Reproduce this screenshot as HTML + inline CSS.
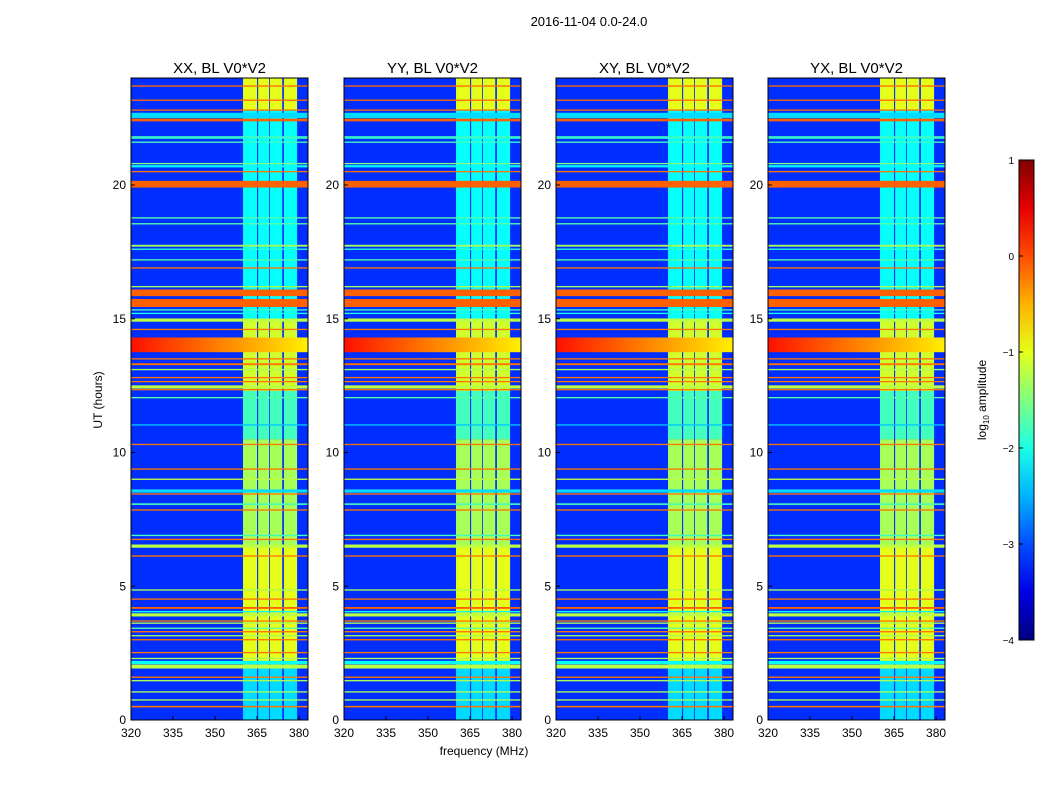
<!DOCTYPE html>
<html><head><meta charset="utf-8"><style>
body{margin:0;background:#fff;}
svg text{font-family:"Liberation Sans",sans-serif;fill:#000;}
</style></head><body>
<svg id="fig" width="1050" height="800" xmlns="http://www.w3.org/2000/svg">
<rect width="1050" height="800" fill="#fff"/>
<text x="589" y="26" font-size="13" text-anchor="middle">2016-11-04 0.0-24.0</text>
<text x="484" y="755" font-size="12" text-anchor="middle">frequency (MHz)</text>
<text transform="translate(102,400) rotate(-90)" font-size="12" text-anchor="middle">UT (hours)</text>
<g id="panels"></g>
<g id="cbar"></g>
<text transform="translate(986,400) rotate(-90)" font-size="12" text-anchor="middle">log<tspan font-size="8" dy="3">10</tspan><tspan dy="-3"> amplitude</tspan></text>
</svg>
<script>
const panelTitles=["XX, BL V0*V2","YY, BL V0*V2","XY, BL V0*V2","YX, BL V0*V2"];
const panelLefts=[131,344,556,768];
const xTicks=[320,335,350,365,380];
const yTicks=[0,5,10,15,20];
const cbarTicks=[1,0,-1,-2,-3,-4];
const backgroundLevel=-3.15;
// vertical bands (MHz)
const bandStarts=[360.0,365.4,369.6,374.6];
const bandEnds=[365.0,369.3,374.0,379.3];
// band time segments: start hour, end hour, log amplitude
const segStart=[0,2.2,6.5,10.5,12.3,15.0,22.8];
const segEnd=[2.2,6.5,10.5,12.3,15.0,22.8,24];
const segLevel=[-2.3,-1.0,-1.3,-1.8,-1.1,-2.1,-1.0];
// horizontal RFI lines: hour, width (hours), log amplitude
const rfiHour=[23.7,23.17,22.8,22.6,22.43,21.8,21.75,21.6,20.8,20.7,20.5,20.03,18.77,18.55,17.73,17.6,17.2,16.9,16.2,15.97,15.59,15.33,15.2,14.95,14.6,13.5,13.3,13.1,12.8,12.65,12.45,12.35,12.05,11.03,10.3,9.38,9.0,8.56,8.45,8.07,7.85,6.9,6.75,6.5,6.13,4.86,4.52,4.19,4.05,3.93,3.7,3.62,3.43,3.3,3.15,3.0,2.52,2.3,2.15,2.0,1.6,1.47,1.05,0.75,0.5];
const rfiWidth=[0.05,0.05,0.05,0.2,0.1,0.05,0.04,0.05,0.05,0.08,0.05,0.25,0.05,0.05,0.07,0.05,0.05,0.05,0.05,0.25,0.3,0.05,0.05,0.12,0.05,0.05,0.07,0.05,0.05,0.05,0.12,0.05,0.05,0.05,0.05,0.05,0.05,0.12,0.05,0.06,0.05,0.05,0.05,0.12,0.05,0.05,0.05,0.07,0.05,0.12,0.05,0.05,0.05,0.05,0.05,0.05,0.05,0.05,0.12,0.15,0.05,0.05,0.05,0.05,0.06];
const rfiLevel=[-0.15,-0.15,-0.15,-2.3,-0.1,-1.8,-1.9,-1.8,-1.5,-2.1,-0.2,-0.1,-1.7,-1.7,-1.3,-1.9,-1.7,-0.2,-1.3,-0.1,-0.1,-1.8,-2.0,-1.2,-0.2,-0.2,-0.2,-1.3,-0.2,-0.2,-1.2,-0.2,-1.7,-2.4,-0.2,-0.2,-1.2,-2.3,-0.2,-1.8,-0.2,-1.8,-0.2,-1.2,-0.2,-1.3,-0.2,-0.1,-2.1,-1.2,-0.2,-1.3,-1.7,-0.2,-1.3,-0.2,-0.2,-1.3,-2.1,-1.2,-0.2,-1.3,-1.3,-1.3,-0.2];
// broad red feature near 14h: start hour, end hour, left level, right level
const redBand=[13.75,14.3,0.3,-0.8];

function jet(v){let t=(v+4)/5;t=Math.max(0,Math.min(1,t));
 const c=x=>Math.max(0,Math.min(1,x));
 const r=c(1.5-Math.abs(4*t-3)),g=c(1.5-Math.abs(4*t-2)),b=c(1.5-Math.abs(4*t-1));
 return `rgb(${Math.round(r*255)},${Math.round(g*255)},${Math.round(b*255)})`;}
const NS="http://www.w3.org/2000/svg";
function mk(tag,attrs,parent){const e=document.createElementNS(NS,tag);for(const k in attrs)e.setAttribute(k,attrs[k]);parent.appendChild(e);return e;}
const fMin=320,fMax=383.2,hMin=0,hMax=24,yTop=78,yBottom=720,pw=177;
const yPix=h=>yBottom-(h-hMin)/(hMax-hMin)*(yBottom-yTop);
const panelsG=document.getElementById('panels');
panelTitles.forEach((title,pi)=>{
 const L=panelLefts[pi];const xPix=f=>L+(f-fMin)/(fMax-fMin)*pw;
 const g=mk('g',{},panelsG);
 
 
 const cp=mk('clipPath',{id:'cp'+pi},g);mk('rect',{x:L,y:yTop,width:pw,height:yBottom-yTop},cp);
 const hg=mk('g',{'clip-path':'url(#cp'+pi+')'},g);
 mk('rect',{x:L,y:yTop,width:pw,height:yBottom-yTop,fill:jet(backgroundLevel)},hg);
 bandStarts.forEach((fs,bi)=>{segStart.forEach((hs,si)=>{
  const r=mk('rect',{x:xPix(fs),y:yPix(segEnd[si]),width:xPix(bandEnds[bi])-xPix(fs),height:yPix(hs)-yPix(segEnd[si]),fill:jet(segLevel[si])},hg);
  
  
 });});
 const gid='rg'+pi;const lg=mk('linearGradient',{id:gid,x1:0,x2:1,y1:0,y2:0},g);
 mk('stop',{offset:0,'stop-color':jet(redBand[2])},lg);mk('stop',{offset:0.5,'stop-color':jet((redBand[2]+redBand[3])/2)},lg);mk('stop',{offset:1,'stop-color':jet(redBand[3])},lg);
 const rb=mk('rect',{x:L,y:yPix(redBand[1]),width:pw,height:yPix(redBand[0])-yPix(redBand[1]),fill:'url(#'+gid+')'},hg);
 
 
 rfiHour.forEach((h,i)=>{
  const hh=Math.max(1.2,rfiWidth[i]*(yBottom-yTop)/24);
  const r=mk('rect',{x:L,y:yPix(h)-hh/2,width:pw,height:hh,fill:jet(rfiLevel[i])},hg);
  
  
 });
 mk('rect',{x:L,y:yTop,width:pw,height:yBottom-yTop,fill:'none',stroke:'#000','stroke-width':1},g);
 const t=mk('text',{x:L+pw/2,y:73,'font-size':15,'text-anchor':'middle'},g);t.textContent=title;
 
 
 xTicks.forEach(v=>{const x=xPix(v);mk('line',{x1:x,x2:x,y1:yBottom,y2:yBottom-4,stroke:'#000'},g);
  const tx=mk('text',{x:x,y:yBottom+17,'font-size':12,'text-anchor':'middle'},g);tx.textContent=v;
  
  });
 yTicks.forEach(v=>{const y=yPix(v);mk('line',{x1:L,x2:L+4,y1:y,y2:y,stroke:'#000'},g);
  const ty=mk('text',{x:L-5,y:y+4,'font-size':12,'text-anchor':'end'},g);ty.textContent=v;
  
  });
});
// colorbar
const cb=document.getElementById('cbar');const cx=1019,cw=15,ct=160,cbt=640;
const cyPix=v=>cbt-(v+4)/5*(cbt-ct);
const cgr=mk('linearGradient',{id:'cbg',x1:0,x2:0,y1:1,y2:0},cb);
for(let k=0;k<=10;k++){mk('stop',{offset:k/10,'stop-color':jet(-4+k*0.5)},cgr);}
mk('rect',{x:cx,y:ct,width:cw,height:cbt-ct,fill:'url(#cbg)',stroke:'#000'},cb);
cbarTicks.forEach(v=>{const y=cyPix(v);mk('line',{x1:cx,x2:cx+4,y1:y,y2:y,stroke:'#000'},cb);
 const t=mk('text',{x:cx-5,y:y+4,'font-size':10,'text-anchor':'end'},cb);t.textContent=(v<0?'\u2212'+(-v):v);
 
 });
</script>
</body></html>
